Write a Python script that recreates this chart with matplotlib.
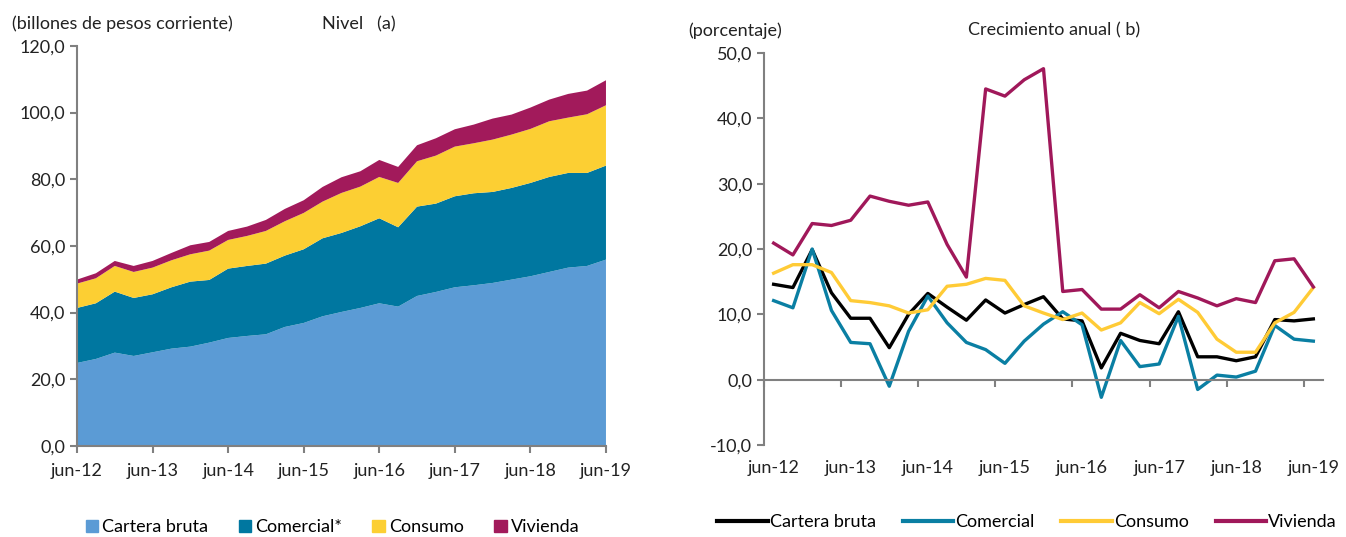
import matplotlib
matplotlib.use("Agg")
import matplotlib.pyplot as plt
from matplotlib.ticker import FuncFormatter
from matplotlib.patches import Patch
from matplotlib.lines import Line2D

plt.rcParams['font.family'] = ['Lato', 'DejaVu Sans']

# trimestres jun-12 ... jun-19
quarters = list(range(29))
tick_pos = [0, 4, 8, 12, 16, 20, 24, 28]
tick_labels = ["jun-12", "jun-13", "jun-14", "jun-15", "jun-16", "jun-17", "jun-18", "jun-19"]

# (a) Nivel, billones de pesos (capas apiladas)
cartera = [24.9, 26.1, 28.0, 27.0, 28.1, 29.2, 29.8, 31.0, 32.4, 33.0, 33.5, 35.7, 36.9, 38.9, 40.2,
           41.4, 42.8, 41.8, 45.0, 46.2, 47.6, 48.2, 48.9, 49.9, 50.9, 52.2, 53.5, 54.0, 55.9]
comercial_top = [41.4, 42.8, 46.3, 44.4, 45.5, 47.6, 49.3, 49.8, 53.2, 54.0, 54.7, 57.1, 59.0, 62.3, 63.9,
                 65.9, 68.3, 65.6, 71.8, 72.7, 74.9, 75.8, 76.2, 77.4, 78.9, 80.7, 81.9, 81.9, 84.1]
consumo_top = [48.7, 50.3, 54.0, 52.2, 53.5, 55.7, 57.5, 58.6, 61.8, 63.0, 64.5, 67.4, 69.9, 73.3, 75.9,
               77.8, 80.7, 78.9, 85.4, 87.1, 89.8, 90.8, 91.9, 93.4, 95.1, 97.4, 98.5, 99.5, 102.2]
vivienda_top = [49.9, 51.8, 55.5, 54.0, 55.5, 57.9, 60.2, 61.2, 64.5, 65.8, 67.8, 71.1, 73.7, 77.7, 80.6,
                82.4, 85.8, 83.7, 90.2, 92.3, 95.0, 96.4, 98.2, 99.4, 101.5, 103.9, 105.6, 106.6, 109.7]

comercial = [b - a for a, b in zip(cartera, comercial_top)]
consumo = [b - a for a, b in zip(comercial_top, consumo_top)]
vivienda = [b - a for a, b in zip(consumo_top, vivienda_top)]

# (b) Crecimiento anual, porcentaje
g_cartera = [14.6, 14.1, 19.9, 13.3, 9.4, 9.4, 4.9, 10.0, 13.2, 11.1, 9.1, 12.2, 10.2, 11.5, 12.7,
             9.3, 9.0, 1.8, 7.1, 6.0, 5.5, 10.4, 3.5, 3.5, 2.9, 3.5, 9.2, 9.0, 9.3]
g_comercial = [12.1, 11.0, 20.0, 10.6, 5.7, 5.5, -1.0, 7.4, 12.8, 8.7, 5.7, 4.6, 2.5, 5.9, 8.5,
               10.4, 8.4, -2.7, 6.0, 2.0, 2.4, 9.7, -1.5, 0.7, 0.4, 1.3, 8.3, 6.2, 5.9]
g_consumo = [16.3, 17.6, 17.6, 16.4, 12.1, 11.8, 11.3, 10.2, 10.7, 14.3, 14.6, 15.5, 15.2, 11.3, 10.2,
             9.2, 10.2, 7.6, 8.7, 11.8, 10.1, 12.3, 10.3, 6.2, 4.2, 4.2, 8.7, 10.3, 14.1]
g_vivienda = [20.9, 19.1, 23.9, 23.6, 24.4, 28.1, 27.3, 26.7, 27.2, 20.7, 15.7, 44.5, 43.4, 45.9, 47.6,
              13.5, 13.8, 10.8, 10.8, 13.0, 11.0, 13.5, 12.5, 11.3, 12.4, 11.8, 18.2, 18.5, 14.2]

c_light = "#5B9BD5"
c_teal = "#0077A0"
c_yellow = "#FCCF33"
c_mag = "#A21A5B"
grey = "#808080"
fs = 13

comma = FuncFormatter(lambda v, p: f"{v:.1f}".replace(".", ","))

fig = plt.figure(figsize=(13.46, 5.37), dpi=100)

# ---------- panel (a)
ax1 = fig.add_axes([0.0572, 0.1695, 0.393, 0.745])
ax1.stackplot(quarters, cartera, comercial, consumo, vivienda,
              colors=[c_light, c_teal, c_yellow, c_mag], linewidth=0)
ax1.set_xlim(0, 28)
ax1.set_ylim(0, 120)
ax1.set_yticks(range(0, 121, 20))
ax1.yaxis.set_major_formatter(comma)
ax1.set_xticks(tick_pos)
ax1.set_xticklabels(tick_labels)
for s in ["top", "right"]:
    ax1.spines[s].set_visible(False)
for s in ["left", "bottom"]:
    ax1.spines[s].set_color(grey)
    ax1.spines[s].set_linewidth(1.5)
ax1.tick_params(colors=grey, labelcolor="#222222", labelsize=fs, width=1.5, length=5)
ax1.tick_params(axis="x", pad=7)
fig.text(0.009, 0.955, "(billones de pesos corriente)", fontsize=fs, color="#222222", va="center")
fig.text(0.239, 0.955, "Nivel   (a)", fontsize=fs, color="#222222", va="center")

h1 = [Patch(color=c) for c in [c_light, c_teal, c_yellow, c_mag]]
fig.legend(h1, ["Cartera bruta", "Comercial*", "Consumo", "Vivienda"],
           loc="center", bbox_to_anchor=(0.247, 0.018), ncol=4, frameon=False,
           fontsize=fs, handlelength=0.7, handleheight=0.7, handletextpad=0.2,
           columnspacing=1.7)

# ---------- panel (b)
ax2 = fig.add_axes([0.5676, 0.1713, 0.4153, 0.730])
ax2.plot(quarters, g_cartera, color="black", lw=2.4)
ax2.plot(quarters, g_comercial, color="#0A7FA3", lw=2.4)
ax2.plot(quarters, g_consumo, color="#FFCB36", lw=2.4)
ax2.plot(quarters, g_vivienda, color="#A0185A", lw=2.4)
ax2.set_xlim(-0.5, 28.5)
ax2.set_ylim(-10, 50)
ax2.set_yticks(range(-10, 51, 10))
ax2.yaxis.set_major_formatter(comma)
ax2.spines["bottom"].set_position(("data", 0))
ax2.set_xticks([-0.5, 3.5, 7.5, 11.5, 15.5, 19.5, 23.5, 27.5])
ax2.set_xticklabels([])
for s in ["top", "right"]:
    ax2.spines[s].set_visible(False)
for s in ["left", "bottom"]:
    ax2.spines[s].set_color(grey)
    ax2.spines[s].set_linewidth(1.5)
ax2.tick_params(colors=grey, labelcolor="#222222", labelsize=fs, width=1.5, length=5)
sec = ax2.secondary_xaxis("bottom")
sec.set_xticks(tick_pos)
sec.set_xticklabels(tick_labels)
sec.spines["bottom"].set_visible(False)
sec.tick_params(length=0, labelsize=fs, labelcolor="#222222", pad=11)
fig.text(0.511, 0.943, "(porcentaje)", fontsize=fs, color="#222222", va="center")
fig.text(0.719, 0.943, "Crecimiento anual ( b)", fontsize=fs, color="#222222", va="center")

h2 = [Line2D([], [], color=c, lw=3) for c in ["black", "#0A7FA3", "#FFCB36", "#A0185A"]]
fig.legend(h2, ["Cartera bruta", "Comercial", "Consumo", "Vivienda"],
           loc="center", bbox_to_anchor=(0.763, 0.028), ncol=4, frameon=False,
           fontsize=fs, handlelength=2.8, handletextpad=0.1, columnspacing=1.5)

fig.savefig("out.png", dpi=100)
